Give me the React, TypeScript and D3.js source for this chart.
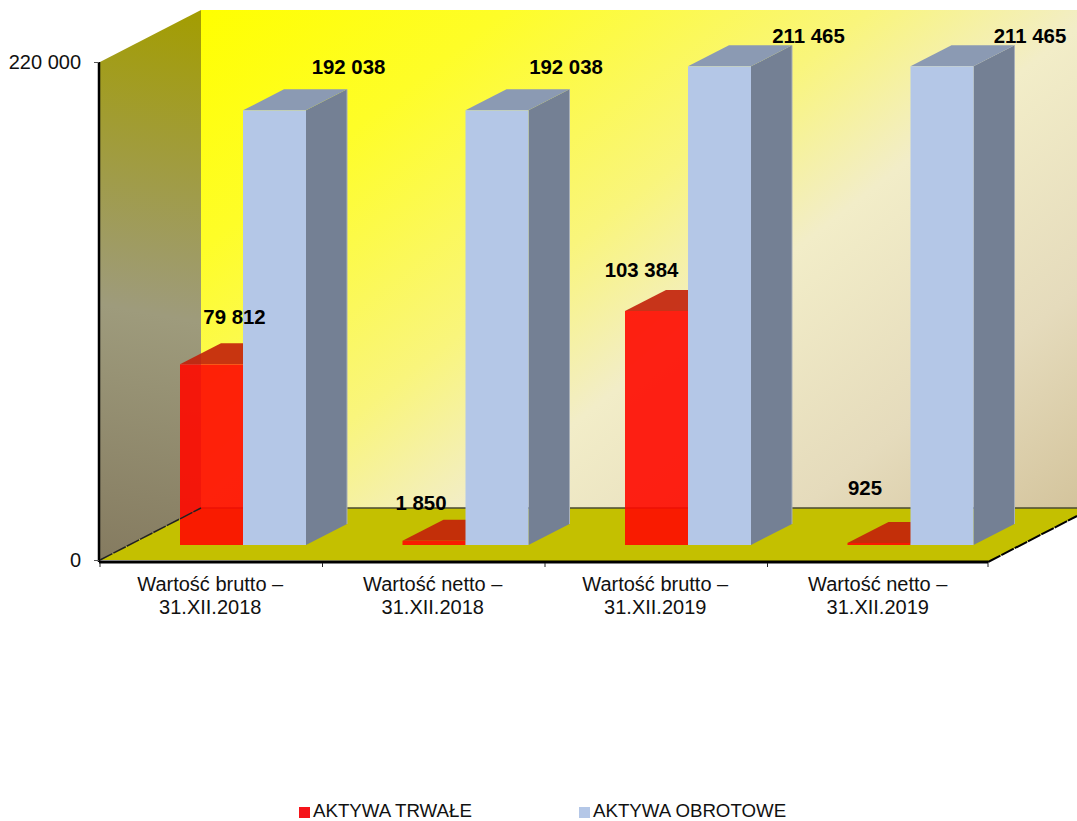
import React, { useEffect, useRef } from 'react'
import * as d3 from 'd3'

const categories = [
	['Wartość brutto –', '31.XII.2018'],
	['Wartość netto –', '31.XII.2018'],
	['Wartość brutto –', '31.XII.2019'],
	['Wartość netto –', '31.XII.2019']
]
const seriesNames = ['AKTYWA TRWAŁE', 'AKTYWA OBROTOWE']
const trwale = [79812, 1850, 103384, 925]
const obrotowe = [192038, 192038, 211465, 211465]
const yTicks = [0, 220000]

// label nudges from the bar centre, [dx, dy]
const trwaleLabelShift = [[23, -40], [-13, -31], [-15, -34], [-14, -48]]
const obrotoweLabelShift = [[74, -36], [69, -36], [89, -23], [88, -23]]

const W = 1077
const H = 821
const left = 100
const right = 990
const top = 62
const bottom = 560
const wallTop = 10
const floorBack = 508
const barDx = 41
const barDy = 21
const baseLift = 15
const barWidth = 63

const fmt = (v: number) => d3.format(',')(v).replace(/,/g, ' ')
const font = '"Liberation Sans", Arial, sans-serif'

const xScale = d3.scaleBand<number>().domain(d3.range(categories.length)).range([left, right])
const yScale = d3.scaleLinear().domain([0, 220000]).range([bottom, top])

const poly = (pts: number[][]) => pts.map((p) => p.join(',')).join(' ')

const Bar = ({ x, value, front, side, topFill, opacity, edge }: any) => {
	const base = yScale(0) - baseLift
	const y = base - (yScale(0) - yScale(value))
	const x2 = x + barWidth
	return (
		<g opacity={opacity}>
			<polygon fill={side} points={poly([[x2, y], [x2 + barDx, y - barDy], [x2 + barDx, base - barDy], [x2, base]])} />
			<polygon fill={topFill} points={poly([[x, y], [x + barDx, y - barDy], [x2 + barDx, y - barDy], [x2, y]])} />
			{edge && <line x1={x2 + barDx} x2={x2 + barDx} y1={y - barDy} y2={base - barDy} stroke={edge} />}
			<rect x={x} y={y} width={barWidth} height={base - y} fill={front} />
		</g>
	)
}

const App = () => {
	const yAxis = useRef<SVGGElement>(null)

	useEffect(() => {
		if (yAxis.current) {
			const g = d3.select(yAxis.current)
			g.call(d3.axisLeft(yScale).tickValues(yTicks).tickSize(5).tickFormat((d) => fmt(+d)) as any)
			g.select('.domain').remove()
			g.selectAll('text').attr('font-size', 20).attr('font-family', font).attr('fill', '#111').attr('dy', '0.3em').attr('x', -18)
			g.selectAll('line').attr('stroke', '#555')
		}
	}, [])

	const bandStart = (i: number) => xScale(i) as number
	const redX = (i: number) => bandStart(i) + 80
	const blueX = (i: number) => bandStart(i) + 80 + barWidth
	const base = yScale(0) - baseLift
	const wallX = left + 101
	const floorEnd = right - 2

	return (
		<svg width={W} height={H} style={{ position: 'absolute', left: 0, top: 0, display: 'block' }}>
			<defs>
				<linearGradient id="wall" gradientUnits="userSpaceOnUse" x1={wallX} y1={wallTop} x2={782} y2={750}>
					<stop offset="0" stopColor="#ffff00" />
					<stop offset="0.2" stopColor="#fefd28" />
					<stop offset="0.44" stopColor="#f9f57c" />
					<stop offset="0.59" stopColor="#f2edc8" />
					<stop offset="0.81" stopColor="#e5dbbc" />
					<stop offset="1" stopColor="#d3c39b" />
				</linearGradient>
				<linearGradient id="sideWall" gradientUnits="userSpaceOnUse" x1={wallX} y1={wallTop} x2={left} y2={bottom}>
					<stop offset="0" stopColor="#a39d00" />
					<stop offset="0.55" stopColor="#9e9b7c" />
					<stop offset="1" stopColor="#857b60" />
				</linearGradient>
			</defs>

			{/* walls and floor */}
			<polygon fill="url(#wall)" points={poly([[wallX, wallTop], [W, wallTop], [W, floorBack], [wallX, floorBack]])} />
			<polygon fill="url(#sideWall)" points={poly([[left, top], [wallX, wallTop], [wallX, floorBack], [left, bottom]])} />
			<polygon fill="#c4c000" points={poly([[left, bottom], [wallX, floorBack], [W, floorBack], [W, 516], [floorEnd, bottom + 2]])} />
			<line x1={wallX} x2={W} y1={floorBack} y2={floorBack} stroke="#4a4a30" strokeWidth={1.5} />

			{/* bars */}
			{categories.map((_, i) => (
				<g key={i}>
					<Bar x={redX(i)} value={trwale[i]} front="#ff0a00" side="#c01a08" topFill="#c3200a" opacity={0.9} />
					<Bar x={blueX(i)} value={obrotowe[i]} front="#b4c7e7" side="#748094" topFill="#8b9ab3" opacity={1} edge="#a9b0b8" />
				</g>
			))}

			{/* axes */}
			<line x1={left - 1} x2={left - 1} y1={top} y2={bottom + 2} stroke="#000" strokeWidth={2.5} />
			<line x1={left - 1} x2={floorEnd} y1={bottom + 2} y2={bottom + 2} stroke="#000" strokeWidth={3} />
			<line x1={left} x2={wallX} y1={bottom} y2={floorBack} stroke="#222" strokeWidth={1.5} strokeDasharray="14 1" />
			<line x1={floorEnd} x2={W} y1={bottom + 2} y2={516} stroke="#000" strokeWidth={2} strokeDasharray="14 1" />
			<g ref={yAxis} transform={`translate(${left - 1},0)`} />
			{d3.range(categories.length + 1).map((i) => {
				const x = i < categories.length ? bandStart(i) : floorEnd
				return <line key={i} x1={x} x2={x} y1={bottom + 3} y2={bottom + 7} stroke="#222" />
			})}
			{categories.map((lines, i) => (
				<text key={i} textAnchor="middle" fontFamily={font} fontSize={20} fill="#111">
					{lines.map((l, j) => (
						<tspan key={j} x={bandStart(i) + xScale.bandwidth() / 2 - 1} y={591 + j * 23}>
							{l}
						</tspan>
					))}
				</text>
			))}

			{/* value labels */}
			{trwale.map((v, i) => (
				<text
					key={i}
					x={redX(i) + barWidth / 2 + trwaleLabelShift[i][0]}
					y={base - (yScale(0) - yScale(v)) + trwaleLabelShift[i][1]}
					textAnchor="middle"
					fontFamily={font}
					fontWeight="bold"
					fontSize={20.4}
					fill="#000"
				>
					{fmt(v)}
				</text>
			))}
			{obrotowe.map((v, i) => (
				<text
					key={i}
					x={blueX(i) + barWidth / 2 + obrotoweLabelShift[i][0]}
					y={base - (yScale(0) - yScale(v)) + obrotoweLabelShift[i][1]}
					textAnchor="middle"
					fontFamily={font}
					fontWeight="bold"
					fontSize={20.4}
					fill="#000"
				>
					{fmt(v)}
				</text>
			))}

			{/* legend */}
			<rect x={299} y={807} width={11} height={11} fill="#f5141a" />
			<text x={313} y={817} fontFamily={font} fontSize={18.7} fill="#111">{seriesNames[0]}</text>
			<rect x={579} y={807} width={11} height={11} fill="#b4c7e7" />
			<text x={593} y={817} fontFamily={font} fontSize={18.7} fill="#111">{seriesNames[1]}</text>
		</svg>
	)
}

export default App
